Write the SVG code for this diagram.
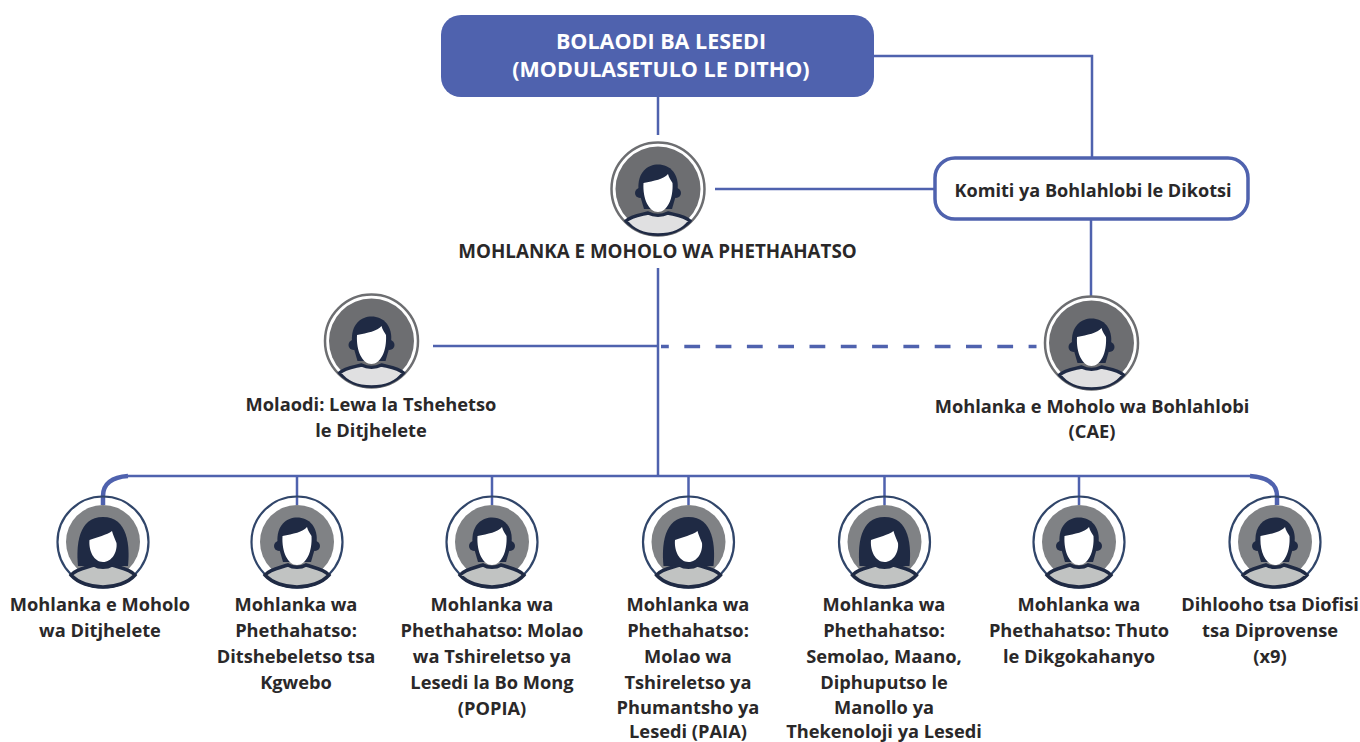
<svg xmlns="http://www.w3.org/2000/svg" width="1360" height="742" viewBox="0 0 1360 742">
<style>
text{font-family:"Open Sans","Noto Sans","Liberation Sans",sans-serif;font-weight:700;font-size:18.25px;fill:#2a2829;text-anchor:middle}
.w{fill:#fff;font-size:21.5px}
.l{fill:none;stroke:#4f62ae;stroke-width:2.5}
.d{fill:#1f2a44}
.f{fill:#fff}
.s{stroke:#1f2a44;stroke-width:3.5}
</style>
<defs>
<clipPath id="c1"><circle r="47"/></clipPath>
<g id="man">
<path class="d" d="M-19.500 1C-21-17-10-24.500 0-24.500C12-24.500 21.500-15 19.500 1L14 20H-14Z"/>
<circle class="d" cx="-18" cy="4" r="5"/><circle class="d" cx="18" cy="4" r="5"/>
<path class="f" d="M-14.500-6C-15.500 10-9 23 0 23C9 23 15.500 10 14.500-6C13-9 11-11 10-15C6-10-4-8-14.500-6Z"/>
</g>
<g id="woman">
<path class="d" d="M-25 24C-27 4-25-25 0-25C25-25 27 4 25 24Z"/>
<path class="f" d="M-13.500-2C-14.500 9-9 20 0 20C9 20 14.500 10 13.500 1C12-3 10-7 9-11C4-7-6-5-13.500-2Z"/>
</g>
<g id="top">
<circle r="46.500" fill="#fff" stroke="#6d6e71" stroke-width="2.500"/>
<circle r="42.500" fill="#6d6e71"/>
<use href="#man"/>
<g clip-path="url(#c1)"><path class="s" fill="#e0e0e1" d="M-32 32C-27 27-18 26-10 24C-4 27 4 27 10 24C18 26 27 27 32 32C25 42 12 46 0 46C-12 46-25 42-32 32Z"/></g>
</g>
<g id="shoulders"><path class="s" fill="#c1c3c2" d="M-32 33C-27 27-18 26-9 23C-4 26 4 26 9 23C18 26 27 27 32 33C25 41 12 45 0 45C-12 45-25 41-32 33Z"/></g>
<g id="botMan">
<circle r="37" fill="#808285"/>
<circle r="45.500" fill="none" stroke="#31466a" stroke-width="2.200"/>
<use href="#man"/>
<use href="#shoulders"/>
</g>
<g id="botWoman">
<circle r="37" fill="#808285"/>
<circle r="45.500" fill="none" stroke="#31466a" stroke-width="2.200"/>
<use href="#woman"/>
<use href="#shoulders"/>
</g>
</defs>
<g id="connectors">
<path class="l" d="M658 97V135"/>
<path class="l" d="M874 56H1092V158"/>
<path class="l" d="M715 189H935"/>
<path class="l" d="M1091 219V297"/>
<path class="l" d="M658 268V476"/>
<path class="l" d="M433 346H658"/>
<path class="l" style="stroke-width:3.500;stroke-dasharray:15.800 15.500;stroke-dashoffset:8" d="M661 346.500H1036.500"/>
<path class="l" d="M128 476H1250"/>
<path class="l" style="stroke-width:4.500" d="M103 505V496C103 484 112 477 128 476"/>
<path class="l" style="stroke-width:4.500" d="M1250 476C1267 477 1277 484 1277 496V505"/>
<path class="l" d="M297 476V505M492 476V505M688.500 476V505M884.500 476V505M1079 476V505"/>
</g>
<g id="board">
<rect x="441" y="15" width="433" height="82" rx="20" fill="#4f62ae"/>
<text class="w" x="661" y="49">BOLAODI BA LESEDI</text>
<text class="w" x="661" y="77">(MODULASETULO LE DITHO)</text>
</g>
<g id="committee">
<rect x="935" y="158" width="313" height="61" rx="20" fill="#fff" stroke="#4f62ae" stroke-width="3.500"/>
<text x="1093" y="197" style="font-size:18.100px">Komiti ya Bohlahlobi le Dikotsi</text>
</g>
<g id="ceo"><use href="#top" x="658" y="189"/><text x="657.500" y="258" style="font-size:18.800px">MOHLANKA E MOHOLO WA PHETHAHATSO</text></g>
<g id="regulator"><use href="#top" x="371.500" y="341"/><text x="371" y="411">Molaodi: Lewa la Tshehetso</text><text x="371" y="437">le Ditjhelete</text></g>
<g id="cae"><use href="#top" x="1091.500" y="343"/><text x="1092" y="413">Mohlanka e Moholo wa Bohlahlobi</text><text x="1092" y="438">(CAE)</text></g>
<g id="n1"><use href="#botWoman" x="103" y="542"/><text x="100" y="611">Mohlanka e Moholo</text><text x="100" y="637">wa Ditjhelete</text></g>
<g id="n2"><use href="#botMan" x="297" y="542"/><text x="296" y="611">Mohlanka wa</text><text x="296" y="637">Phethahatso:</text><text x="296" y="663">Ditshebeletso tsa</text><text x="296" y="688.500">Kgwebo</text></g>
<g id="n3"><use href="#botMan" x="492" y="542"/><text x="492" y="611">Mohlanka wa</text><text x="492" y="637">Phethahatso: Molao</text><text x="492" y="663">wa Tshireletso ya</text><text x="492" y="688.500">Lesedi la Bo Mong</text><text x="492" y="714.500">(POPIA)</text></g>
<g id="n4"><use href="#botWoman" x="688.500" y="542"/><text x="688" y="611">Mohlanka wa</text><text x="688" y="637">Phethahatso:</text><text x="688" y="663">Molao wa</text><text x="688" y="688.500">Tshireletso ya</text><text x="688" y="713.500">Phumantsho ya</text><text x="688" y="737.500">Lesedi (PAIA)</text></g>
<g id="n5"><use href="#botWoman" x="884.500" y="542"/><text x="884" y="611">Mohlanka wa</text><text x="884" y="637">Phethahatso:</text><text x="884" y="663">Semolao, Maano,</text><text x="884" y="688.500">Diphuputso le</text><text x="884" y="713.500">Manollo ya</text><text x="884" y="737.500">Thekenoloji ya Lesedi</text></g>
<g id="n6"><use href="#botMan" x="1079" y="542"/><text x="1079" y="611">Mohlanka wa</text><text x="1079" y="637">Phethahatso: Thuto</text><text x="1079" y="663">le Dikgokahanyo</text></g>
<g id="n7"><use href="#botMan" x="1275" y="542"/><text x="1270" y="611">Dihlooho tsa Diofisi</text><text x="1270" y="637">tsa Diprovense</text><text x="1270" y="663">(x9)</text></g>
</svg>
